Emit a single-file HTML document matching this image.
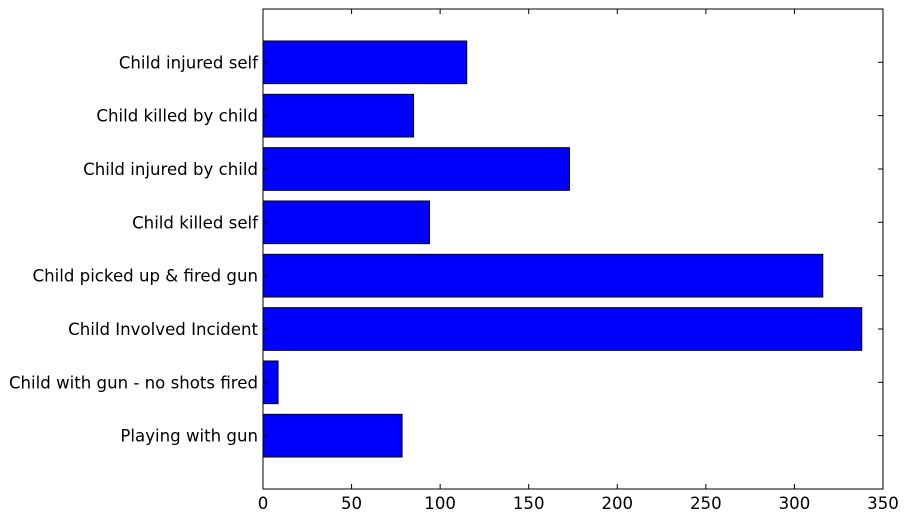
<!DOCTYPE html>
<html><head><meta charset="utf-8"><style>
html,body{margin:0;padding:0;background:#fff;}
svg{display:block;font-family:"DejaVu Sans","Liberation Sans",sans-serif;}
</style></head><body>
<svg id="chart" width="907" height="523" viewBox="0 0 907 523" xmlns="http://www.w3.org/2000/svg"></svg>
<script>
const categories = ["Playing with gun","Child with gun - no shots fired","Child Involved Incident","Child picked up & fired gun","Child killed self","Child injured by child","Child killed by child","Child injured self"];
const values = [78.5, 8.5, 338, 316, 94, 173, 85, 115];
const xTicks = [0,50,100,150,200,250,300,350];

const L=263,R=883,T=9,B=489;
const xMax=350;
const xs=v=>L+(R-L)*v/xMax;
const ys=i=>B-(B-T)*((i+1)/9);
const NS="http://www.w3.org/2000/svg";
const svg=document.getElementById('chart');
function mk(tag,attrs,parent){const e=document.createElementNS(NS,tag);for(const k in attrs)e.setAttribute(k,attrs[k]);(parent||svg).appendChild(e);return e;}
const slot=(B-T)/9, bh=slot*0.8;
categories.forEach((c,i)=>{
  const cy=ys(i);
  const r=mk('rect',{x:xs(0),y:cy-bh/2,width:xs(values[i])-xs(0),height:bh,fill:'#0000ff',stroke:'#000','stroke-width':1});
  
  
  const t=mk('text',{x:L-5,y:cy+6,'text-anchor':'end','font-size':16.6,fill:'#000'});
  t.textContent=c;
  
  
  mk('line',{x1:L,x2:L+5,y1:cy,y2:cy,stroke:'#000'});
  mk('line',{x1:R,x2:R-5,y1:cy,y2:cy,stroke:'#000'});
});
xTicks.forEach(v=>{
  const x=xs(v);
  mk('line',{x1:x,x2:x,y1:B,y2:B-5,stroke:'#000'});
  mk('line',{x1:x,x2:x,y1:T,y2:T+5,stroke:'#000'});
  const t=mk('text',{x:x,y:B+20,'text-anchor':'middle','font-size':16.6,fill:'#000'});
  t.textContent=v;
  
  
});
const f=mk('rect',{x:L,y:T,width:R-L,height:B-T,fill:'none',stroke:'#000','stroke-width':1});


</script>
</body></html>
